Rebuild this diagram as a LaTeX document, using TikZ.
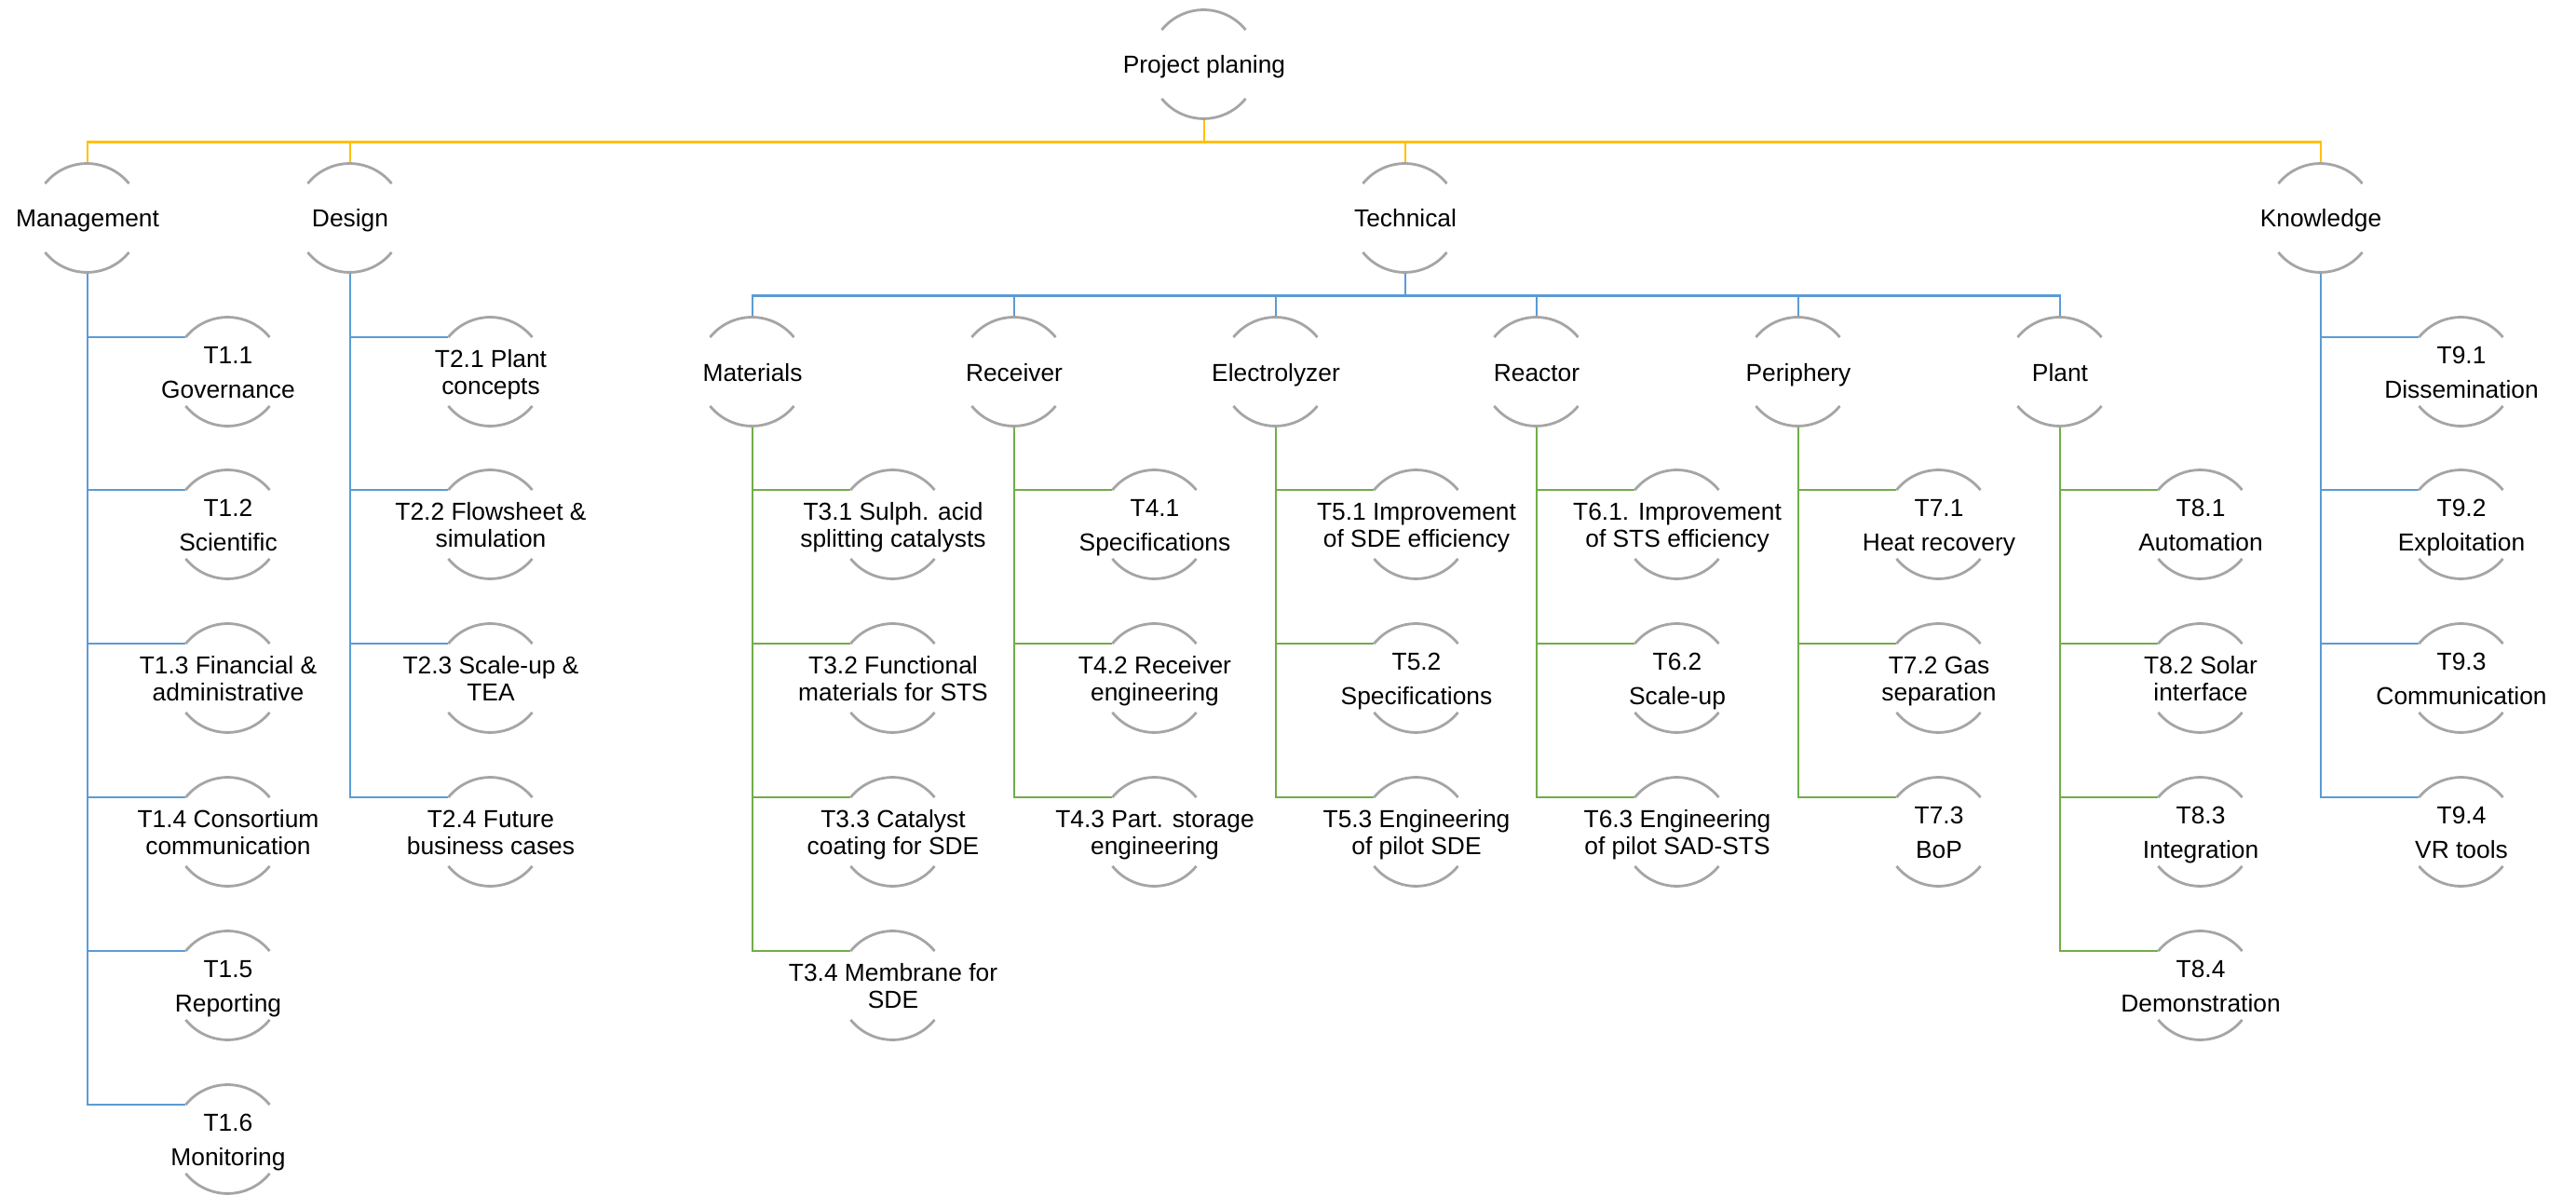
\documentclass[tikz,border=0pt]{standalone}
\usepackage{fontspec}
\setmainfont{Liberation Sans}
\definecolor{wbsyellow}{HTML}{FFC000}
\definecolor{wbsblue}{HTML}{5B9BD5}
\definecolor{wbsgreen}{HTML}{70AD47}
\definecolor{wbsgray}{HTML}{A5A5A5}
\newcommand{\tbox}[1]{\makebox[0pt]{\raisebox{-3pt}[0pt][0pt]{\begin{tabular}{@{}c@{}}#1\end{tabular}}}}

\tikzset{
  wbs/.style={circle, inner sep=0pt, minimum size=1.16cm, font=\fontsize{7.5}{8}\selectfont},
  rim/.style={wbsgray, line width=0.8pt},
  yline/.style={wbsyellow, line width=0.8pt},
  bline/.style={wbsblue, line width=0.8pt},
  gline/.style={wbsgreen, line width=0.8pt}
}

\begin{document}
\begin{tikzpicture}
    \useasboundingbox (0,0) rectangle (27.66,-12.83);

    % Top
    \node[wbs] (plan) at (12.93,-0.69) {\tbox{Project planing}};

    % Work packages
    \node[wbs] (mgmt) at (0.94,-2.34) {\tbox{Management}};
    \node[wbs] (design) at (3.76,-2.34) {\tbox{Design}};
    \node[wbs] (tech) at (15.09,-2.34) {\tbox{Technical}};
    \node[wbs] (know) at (24.92,-2.34) {\tbox{Knowledge}};

    % Technical groups
    \node[wbs] (mat) at (8.08,-3.99) {\tbox{Materials}};
    \node[wbs] (rec) at (10.89,-3.99) {\tbox{Receiver}};
    \node[wbs] (elec) at (13.70,-3.99) {\tbox{Electrolyzer}};
    \node[wbs] (reac) at (16.50,-3.99) {\tbox{Reactor}};
    \node[wbs] (peri) at (19.31,-3.99) {\tbox{Periphery}};
    \node[wbs] (plant) at (22.12,-3.99) {\tbox{Plant}};

    % Management tasks
    \node[wbs] (t11) at (2.45,-3.99) {\tbox{T1.1\\[2.7pt]Governance}};
    \node[wbs] (t12) at (2.45,-5.63) {\tbox{T1.2\\[2.7pt]Scientific}};
    \node[wbs] (t13) at (2.45,-7.28) {\tbox{T1.3 Financial \&\\administrative}};
    \node[wbs] (t14) at (2.45,-8.93) {\tbox{T1.4 Consortium\\communication}};
    \node[wbs] (t15) at (2.45,-10.58) {\tbox{T1.5\\[2.7pt]Reporting}};
    \node[wbs] (t16) at (2.45,-12.23) {\tbox{T1.6\\[2.7pt]Monitoring}};

    % Design tasks
    \node[wbs] (t21) at (5.27,-3.99) {\tbox{T2.1 Plant\\concepts}};
    \node[wbs] (t22) at (5.27,-5.63) {\tbox{T2.2 Flowsheet \&\\simulation}};
    \node[wbs] (t23) at (5.27,-7.28) {\tbox{T2.3 Scale-up \&\\TEA}};
    \node[wbs] (t24) at (5.27,-8.93) {\tbox{T2.4 Future\\business cases}};

    % Materials tasks
    \node[wbs] (t31) at (9.59,-5.63) {\tbox{T3.1 Sulph. acid\\splitting catalysts}};
    \node[wbs] (t32) at (9.59,-7.28) {\tbox{T3.2 Functional\\materials for STS}};
    \node[wbs] (t33) at (9.59,-8.93) {\tbox{T3.3 Catalyst\\coating for SDE}};
    \node[wbs] (t34) at (9.59,-10.58) {\tbox{T3.4 Membrane for\\SDE}};

    % Receiver tasks
    \node[wbs] (t41) at (12.40,-5.63) {\tbox{T4.1\\[2.7pt]Specifications}};
    \node[wbs] (t42) at (12.40,-7.28) {\tbox{T4.2 Receiver\\engineering}};
    \node[wbs] (t43) at (12.40,-8.93) {\tbox{T4.3 Part. storage\\engineering}};

    % Electrolyzer tasks
    \node[wbs] (t51) at (15.21,-5.63) {\tbox{T5.1 Improvement\\of SDE efficiency}};
    \node[wbs] (t52) at (15.21,-7.28) {\tbox{T5.2\\[2.7pt]Specifications}};
    \node[wbs] (t53) at (15.21,-8.93) {\tbox{T5.3 Engineering\\of pilot SDE}};

    % Reactor tasks
    \node[wbs] (t61) at (18.01,-5.63) {\tbox{T6.1. Improvement\\of STS efficiency}};
    \node[wbs] (t62) at (18.01,-7.28) {\tbox{T6.2\\[2.7pt]Scale-up}};
    \node[wbs] (t63) at (18.01,-8.93) {\tbox{T6.3 Engineering\\of pilot SAD-STS}};

    % Periphery tasks
    \node[wbs] (t71) at (20.82,-5.63) {\tbox{T7.1\\[2.7pt]Heat recovery}};
    \node[wbs] (t72) at (20.82,-7.28) {\tbox{T7.2 Gas\\separation}};
    \node[wbs] (t73) at (20.82,-8.93) {\tbox{T7.3\\[2.7pt]BoP}};

    % Plant tasks
    \node[wbs] (t81) at (23.63,-5.63) {\tbox{T8.1\\[2.7pt]Automation}};
    \node[wbs] (t82) at (23.63,-7.28) {\tbox{T8.2 Solar\\interface}};
    \node[wbs] (t83) at (23.63,-8.93) {\tbox{T8.3\\[2.7pt]Integration}};
    \node[wbs] (t84) at (23.63,-10.58) {\tbox{T8.4\\[2.7pt]Demonstration}};

    % Knowledge tasks
    \node[wbs] (t91) at (26.43,-3.99) {\tbox{T9.1\\[2.7pt]Dissemination}};
    \node[wbs] (t92) at (26.43,-5.63) {\tbox{T9.2\\[2.7pt]Exploitation}};
    \node[wbs] (t93) at (26.43,-7.28) {\tbox{T9.3\\[2.7pt]Communication}};
    \node[wbs] (t94) at (26.43,-8.93) {\tbox{T9.4\\[2.7pt]VR tools}};

    % Connectors
    \foreach \n in {mgmt,design,tech,know}
        \draw[yline] (plan.south) -- ++(0,-0.245) -| (\n.north);
    \foreach \n in {mat,rec,elec,reac,peri,plant}
        \draw[bline] (tech.south) -- ++(0,-0.245) -| (\n.north);
    \foreach \n in {t11,t12,t13,t14,t15,t16}
        \draw[bline] (mgmt.south) |- (\n.141);
    \foreach \n in {t21,t22,t23,t24}
        \draw[bline] (design.south) |- (\n.141);
    \foreach \n in {t91,t92,t93,t94}
        \draw[bline] (know.south) |- (\n.141);
    \foreach \n in {t31,t32,t33,t34}
        \draw[gline] (mat.south) |- (\n.141);
    \foreach \n in {t41,t42,t43}
        \draw[gline] (rec.south) |- (\n.141);
    \foreach \n in {t51,t52,t53}
        \draw[gline] (elec.south) |- (\n.141);
    \foreach \n in {t61,t62,t63}
        \draw[gline] (reac.south) |- (\n.141);
    \foreach \n in {t71,t72,t73}
        \draw[gline] (peri.south) |- (\n.141);
    \foreach \n in {t81,t82,t83,t84}
        \draw[gline] (plant.south) |- (\n.141);

    % Arcs above and below each text
    \foreach \n in {plan,mgmt,design,tech,know,mat,rec,elec,reac,peri,plant,
                    t11,t12,t13,t14,t15,t16,t21,t22,t23,t24,t31,t32,t33,t34,
                    t41,t42,t43,t51,t52,t53,t61,t62,t63,t71,t72,t73,
                    t81,t82,t83,t84,t91,t92,t93,t94} {
        \draw[rim] (\n.141) arc[start angle=141, end angle=39, radius=0.58cm];
        \draw[rim] (\n.-141) arc[start angle=-141, end angle=-39, radius=0.58cm];
    }
\end{tikzpicture}
\end{document}
